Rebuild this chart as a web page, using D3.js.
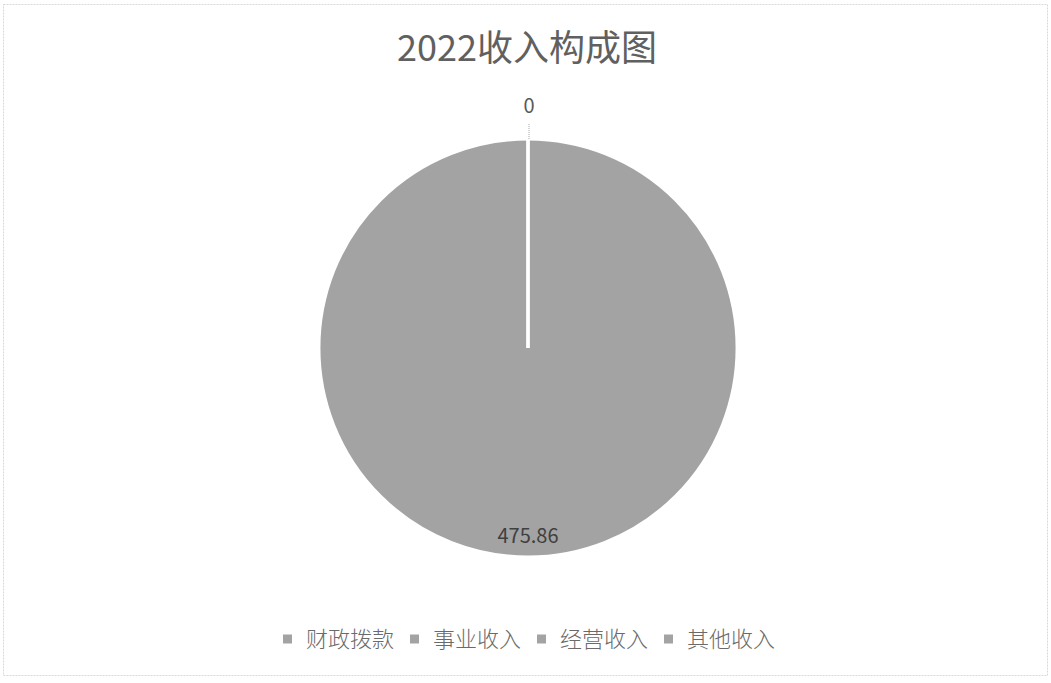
<!DOCTYPE html>
<html><head><meta charset="utf-8">
<script src="https://cdn.jsdelivr.net/npm/d3@7"></script>
<style>html,body{margin:0;padding:0;background:#fff;}svg{display:block;}</style>
</head><body>
<svg id="chart" width="1051" height="683"></svg>
<script>
const title = "2022收入构成图";
const categories = ["财政拨款", "事业收入", "经营收入", "其他收入"];
const values = [475.86, 0, 0, 0];
const colors = ["#a3a3a3", "#a3a3a3", "#a3a3a3", "#a3a3a3"];

const W = 1051, H = 683;
const svg = d3.select("#chart");
const font = "'Noto Sans CJK SC','Noto Sans',sans-serif";

svg.append("rect").attr("x", 3.5).attr("y", 4.5).attr("width", 1044).attr("height", 671)
  .attr("fill", "#fff").attr("stroke", "#d9d9d9").attr("stroke-width", 1).attr("stroke-dasharray", "2,1");

svg.append("text").attr("x", 527).attr("y", 61).attr("text-anchor", "middle")
  .attr("font-family", font).attr("font-size", 36).attr("fill", "#606060").text(title);

const cx = 528, cy = 348, r = 209;
const data = categories.map((c, i) => ({ name: c, value: values[i], color: colors[i] }));
const pie = d3.pie().sort(null).value(d => d.value).startAngle(0).endAngle(2 * Math.PI);
const arcs = pie(data);
const arc = d3.arc().innerRadius(0).outerRadius(r);
const g = svg.append("g").attr("transform", `translate(${cx},${cy})`);

g.selectAll("path.slice").data(arcs).enter().append("path").attr("class", "slice")
  .attr("d", arc).attr("fill", d => d.data.color)
  .attr("stroke", "#fff").attr("stroke-width", 3).attr("stroke-linejoin", "miter");

// labels
const inLabel = d3.arc().innerRadius(r * 0.9).outerRadius(r * 0.9);
let zeroShown = false;
arcs.forEach(d => {
  if (d.data.value > 0) {
    const [x, y] = inLabel.centroid(d);
    g.append("text").attr("x", x).attr("y", y).attr("dy", "0.35em").attr("text-anchor", "middle")
      .attr("font-family", font).attr("font-size", 20).attr("fill", "#404040").text(d.data.value);
  } else if (!zeroShown) {
    zeroShown = true;
    const a = d.startAngle;
    const p = (rad) => [Math.sin(a) * rad, -Math.cos(a) * rad];
    const [x1, y1] = p(r), [x2, y2] = p(r + 15), [lx, ly] = p(r + 33);
    g.append("line").attr("x1", x1 + 1).attr("y1", y1).attr("x2", x2 + 1).attr("y2", y2)
      .attr("stroke", "#a6a6a6").attr("stroke-width", 1).attr("stroke-dasharray", "1,1");
    g.append("text").attr("x", lx + 1).attr("y", ly).attr("dy", "0.35em").attr("text-anchor", "middle")
      .attr("font-family", font).attr("font-size", 20).attr("fill", "#595959").text(d.data.value);
  }
});

// legend
const legend = svg.append("g");
const pitch = 127, lx0 = 283, ly = 639;
const items = legend.selectAll("g").data(data).enter().append("g")
  .attr("transform", (d, i) => `translate(${lx0 + i * pitch},${ly})`);
items.append("rect").attr("x", 0).attr("y", -4.5).attr("width", 9).attr("height", 9).attr("fill", d => d.color);
items.append("text").attr("x", 23).attr("y", 0).attr("dy", "0.36em")
  .attr("font-family", font).attr("font-size", 22).attr("font-weight", 300).attr("fill", "#6a6a6a").text(d => d.name);
</script>
</body></html>
